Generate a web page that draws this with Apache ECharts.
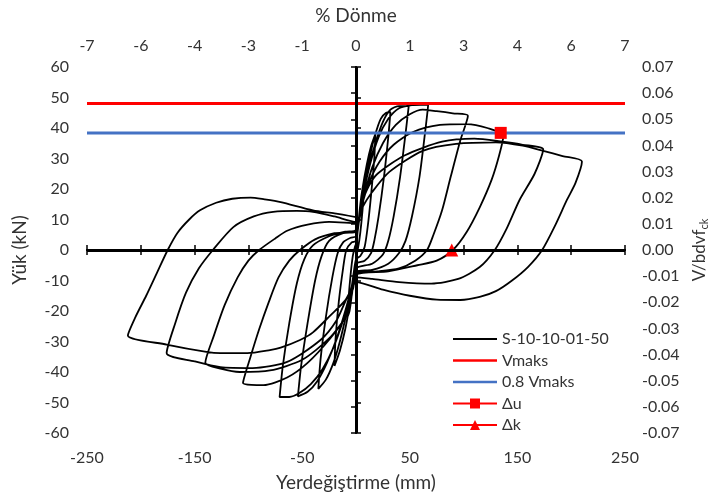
<!DOCTYPE html>
<html>
<head>
<meta charset="utf-8">
<script src="https://cdn.jsdelivr.net/npm/echarts@6/dist/echarts.min.js"></script>
<style>html,body{margin:0;padding:0;background:#fff}#c{width:714px;height:502px}</style>
</head>
<body>
<div id="c"></div>
<script>
// ---- data (displacement mm, load kN) ----
const cycle1 = [[0,0],[2,8],[4,15],[6,20],[8,23],[7,17],[5,9],[3,3],[1,-1],[0,-3],[-2,-9],[-4,-15],[-6,-20],[-8,-22],[-7,-16],[-5,-8],[-3,-2],[-1,1],[0,2]];
const cycle2 = [[0,2],[3,11],[6,20],[10,28],[14,34],[18,38],[17,30],[14,18],[11,8],[8,1],[4,-2],[0,-3],[-3,-10],[-6,-18],[-10,-26],[-15,-33],[-20,-38],[-19,-29],[-16,-17],[-12,-6],[-9,0],[-4,2.5],[0,3]];
const cycle3 = [[0,3],[4,13],[8,22],[13,31],[18,38],[23,43],[28,45],[32,45.2],[30,37],[26,24],[21,11],[17,3],[14,-1],[8,-3.5],[0,-4.5],[-4,-12],[-9,-21],[-15,-30],[-21,-37],[-28,-42.5],[-35,-45.5],[-33,-36],[-28,-22],[-22,-9],[-17,-1],[-12,2.5],[-5,4],[0,4.5]];
const cycle4 = [[0,4.5],[5,15],[11,26],[18,35],[25,42],[32,46],[40,47.2],[49,47.2],[46,38],[41,24],[35,11],[30,3],[25,-1.5],[15,-4.5],[0,-6],[-4,-12],[-10,-20],[-18,-29],[-27,-37],[-36,-43],[-45,-46.5],[-54,-48],[-51,-38],[-45,-24],[-38,-10],[-32,-2],[-25,3],[-12,5.5],[0,6]];
const cycle5 = [[0,6],[6,17],[13,28],[21,37],[30,43],[40,46.5],[52,47.5],[60,47.6],[67,47.5],[64,38],[59,24],[52,11],[46,3],[40,-1],[30,-4.5],[15,-6.5],[0,-7],[-5,-14],[-12,-23],[-21,-32],[-31,-39],[-42,-44],[-53,-47],[-62,-48.2],[-71,-48.2],[-68,-38],[-62,-24],[-55,-11],[-48,-3],[-40,1.5],[-25,4.5],[-10,6],[0,6.5]];
const cycle6 = [[0,6.5],[7,17],[15,27],[25,35],[37,41],[50,44.5],[62,46],[75,45.5],[90,44.8],[104,44],[97,36],[88,24],[80,13],[72,5],[66,0],[55,-3.5],[40,-6],[20,-7],[0,-7.5],[-4,-15],[-10,-22],[-24,-29],[-45,-37],[-64,-41.8],[-86,-44.3],[-105,-43.6],[-98,-35],[-90,-26],[-81,-17],[-72,-9],[-62,-3.5],[-52,0],[-38,3.5],[-20,5.5],[0,6.5]];
const cycle7 = [[0,6.5],[5,14],[12,22],[22,29],[35,34.5],[53,38.7],[78,41],[103,41.3],[122,40],[137,37.5],[133,31],[126,23],[115,14],[103,6],[90,0],[75,-3.5],[57,-5],[30,-7],[0,-8],[-4,-15],[-10,-22],[-25,-29],[-50,-36],[-80,-39.5],[-108,-40],[-125,-39],[-140,-37],[-132,-28],[-122,-18],[-110,-9],[-100,-3.5],[-90,0],[-75,3.8],[-64,6.3],[-45,8.3],[-25,9.2],[0,8.8]];
const cycle8 = [[0,8.8],[5,15],[12,21],[20,25],[45,31],[80,35.5],[110,36.5],[136,35.5],[155,34.5],[174,33],[166,25],[152,16.4],[140,7],[129,0],[115,-5.6],[95,-9.5],[70,-11],[40,-10.5],[15,-9.5],[0,-9],[-3,-13],[-8,-15.4],[-18,-23],[-33,-29.5],[-64,-36.7],[-96,-38.7],[-126,-38.4],[-150,-36.5],[-176,-33.8],[-168,-24],[-158,-14],[-146,-6],[-133,0],[-114,7.5],[-95,11],[-77,12.5],[-55,12.8],[-40,12.5],[-20,11],[0,9.2]];
const cycle9 = [[0,9.2],[6,14],[15,19],[31,25.6],[62,32.5],[93,34.8],[130,35.3],[155,34.2],[174,32.5],[192,30.8],[210,29],[204,22],[196,16.4],[185,8],[173,0],[160,-5.5],[145,-10],[130,-13.5],[115,-15.4],[97,-16.4],[75,-16.3],[50,-15],[25,-13],[0,-10.5],[-3,-12],[-10,-16.5],[-24,-21.5],[-40,-27],[-52,-29.5],[-70,-32],[-80,-32.8],[-101,-33.8],[-126,-33.8],[-139,-33.4],[-176,-31],[-212,-28],[-205,-22],[-195,-15],[-185,-7.5],[-175,0],[-166,5.6],[-155,10],[-145,13],[-130,15.5],[-115,16.8],[-98,17.2],[-85,16.6],[-70,15.7],[-40,13],[-20,12],[0,10.8]];
const hysteresis = [].concat(cycle1, cycle2, cycle3, cycle4, cycle5, cycle6, cycle7, cycle8, cycle9);
const vmaks = 48;
const vmaks08 = 38.4;
const deltaU = [[134.5, 38.4]];
const deltaK = [[89, 0]];
const seriesNames = ['S-10-10-01-50', 'Vmaks', '0.8 Vmaks', 'Δu', 'Δk'];

const F = 'Lato, "Open Sans", sans-serif';
const lineIcon = 'path://M0,0M0,5L44,5L44,7.5L0,7.5ZM44,12.5';
const thinIcon = 'path://M0,0M0,5.2L44,5.2L44,7.2L0,7.2ZM44,12.5';
const chart = echarts.init(document.getElementById('c'));
const axisLine = {show: true, lineStyle: {color: '#000', width: 2}};
const tick = {inside: true, length: 5, lineStyle: {color: '#000', width: 1.5}};
const titleStyle = {fontFamily: F, fontSize: 19, color: '#333'};
chart.setOption({
  backgroundColor: '#fff',
  animation: false,
  textStyle: {fontFamily: F},
  grid: {left: 87, right: 89, top: 67, bottom: 69, containLabel: false, outerBoundsMode: 'none'},
  legend: {
    orient: 'vertical', left: 447, top: 326,
    itemWidth: 44, itemHeight: 12.5, itemGap: 5.5,
    data: [
      {name: seriesNames[0], icon: thinIcon},
      {name: seriesNames[1], icon: lineIcon},
      {name: seriesNames[2], icon: lineIcon},
      {name: seriesNames[3]},
      {name: seriesNames[4]}
    ],
    textStyle: {fontFamily: F, fontSize: 16, color: '#333'}
  },
  xAxis: [{
    type: 'value', position: 'bottom', min: -250, max: 250, interval: 50,
    name: 'Yerdeğiştirme (mm)', nameLocation: 'middle', nameGap: 40,
    nameTextStyle: titleStyle,
    axisLine: axisLine, splitLine: {show: false}, axisTick: tick,
    axisLabel: {fontFamily: F, fontSize: 16, color: '#333', margin: 17,
      formatter: v => (Math.round(v / 50) % 2 !== 0 ? String(Math.round(v)) : '')}
  }, {
    type: 'value', position: 'top', min: -7, max: 7, interval: 1.4,
    name: '% Dönme', nameLocation: 'middle', nameGap: 42,
    nameTextStyle: titleStyle,
    axisLine: axisLine, splitLine: {show: false}, axisTick: tick,
    axisLabel: {fontFamily: F, fontSize: 16, color: '#333', margin: 13,
      formatter: v => String(Math.round(v) === 0 ? 0 : Math.round(v))}
  }],
  yAxis: [{
    type: 'value', position: 'left', min: -60, max: 60, interval: 10,
    name: 'Yük (kN)', nameLocation: 'middle', nameGap: 58, nameRotate: 90,
    nameTextStyle: titleStyle,
    axisLine: axisLine, splitLine: {show: false}, axisTick: tick,
    axisLabel: {fontFamily: F, fontSize: 16, color: '#333', margin: 18}
  }, {
    type: 'value', position: 'right', min: -0.07, max: 0.07, interval: 0.01,
    name: '{a|V/bdvf}{s|ck}', nameLocation: 'middle', nameGap: 64, nameRotate: 90,
    nameTextStyle: {fontFamily: F, fontSize: 17, color: '#333',
      rich: {a: {fontFamily: F, fontSize: 17, color: '#333'},
             s: {fontFamily: F, fontSize: 11, color: '#333', padding: [10, 0, 0, 0]}}},
    axisLine: axisLine, splitLine: {show: false}, axisTick: tick,
    axisLabel: {fontFamily: F, fontSize: 16, color: '#333', margin: 17,
      formatter: v => v.toFixed(2)}
  }],
  series: [{
    name: seriesNames[0], type: 'line', data: hysteresis, xAxisIndex: 0, yAxisIndex: 0,
    symbol: 'none', smooth: 0.25, color: '#000',
    lineStyle: {color: '#000', width: 1.8},
    markLine: {silent: true, symbol: 'none', label: {show: false},
      lineStyle: {color: '#000', width: 3, type: 'solid'},
      data: [{xAxis: 0}, {yAxis: 0}]}
  }, {
    name: seriesNames[1], type: 'line', data: [[-250, vmaks], [250, vmaks]],
    symbol: 'none', color: '#FF0000', lineStyle: {color: '#FF0000', width: 3}
  }, {
    name: seriesNames[2], type: 'line', data: [[-250, vmaks08], [250, vmaks08]],
    symbol: 'none', color: '#4472C4', lineStyle: {color: '#4472C4', width: 3}
  }, {
    name: seriesNames[3], type: 'line', data: deltaU,
    symbol: 'rect', symbolSize: 12, color: '#FF0000',
    itemStyle: {color: '#FF0000'}, lineStyle: {color: '#FF0000', width: 3}
  }, {
    name: seriesNames[4], type: 'line', data: deltaK,
    symbol: 'triangle', symbolSize: 13, color: '#FF0000',
    itemStyle: {color: '#FF0000'}, lineStyle: {color: '#FF0000', width: 3}
  }]
});
</script>
</body>
</html>
